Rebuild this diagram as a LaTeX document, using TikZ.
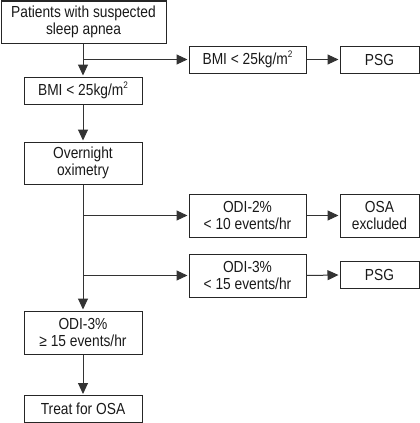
\documentclass[tikz,border=0pt]{standalone}
\usepackage{fontspec}
\setmainfont{Liberation Sans}[FakeStretch=0.86]
\usetikzlibrary{arrows.meta}
\newcommand{\sq}{\raisebox{0.85ex}{\fontsize{9.5}{9.5}\selectfont 2}}
\begin{document}
\begin{tikzpicture}[x=1pt,y=-1pt,
  box/.style={draw=black!85,line width=1pt,align=center,inner sep=0pt,
    font=\fontsize{16}{16.5}\selectfont,text=black!90},
  arr/.style={draw=black!80,line width=1pt,-{Triangle[length=11pt,width=10pt]},shorten >=1pt}]
\useasboundingbox (0,0) rectangle (420,423);
\node[box,minimum width=165pt,minimum height=42pt] (p) at (83.5,22) {Patients with suspected\\sleep apnea};
\node[box,minimum width=118pt,minimum height=27pt] (b1) at (83,90.5) {BMI < 25kg/m\sq};
\node[box,minimum width=117pt,minimum height=27pt] (b2) at (247.5,59.5) {BMI < 25kg/m\sq};
\node[box,minimum width=79pt,minimum height=27pt] (psg1) at (379.5,59.5) {PSG};
\node[box,minimum width=118pt,minimum height=42pt] (on) at (83,163) {Overnight\\oximetry};
\node[box,minimum width=117pt,minimum height=43pt] (o2) at (247.5,215.5) {ODI-2\%\\< 10 events/hr};
\node[box,minimum width=79pt,minimum height=43pt] (ox) at (379.5,215.5) {OSA\\excluded};
\node[box,minimum width=117pt,minimum height=43pt] (o3) at (247.5,275.5) {ODI-3\%\\< 15 events/hr};
\node[box,minimum width=79pt,minimum height=27pt] (psg2) at (379.5,275) {PSG};
\node[box,minimum width=118pt,minimum height=43pt] (o3b) at (83,332.5) {ODI-3\%\\≥ 15 events/hr};
\node[box,minimum width=118pt,minimum height=27pt] (t) at (83,409) {Treat for OSA};
\draw[arr] (b1.north |- p.south) -- (b1.north);
\draw[arr] (b1.north |- b2.west) -- (b2.west);
\draw[arr] (b2.east) -- (psg1.west);
\draw[arr] (b1.south) -- (on.north);
\draw[arr] (on.south) -- (o3b.north);
\draw[arr] (on.south |- o2.west) -- (o2.west);
\draw[arr] (on.south |- o3.west) -- (o3.west);
\draw[arr] (o2.east) -- (ox.west);
\draw[arr] (o3.east) -- (psg2.west);
\draw[arr] (o3b.south) -- (t.north);
\end{tikzpicture}
\end{document}
